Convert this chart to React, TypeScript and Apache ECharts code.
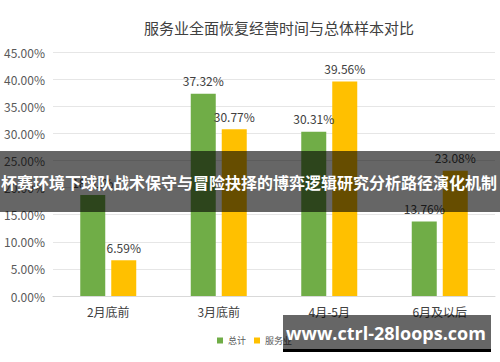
import React, { useEffect, useRef } from "react";
import * as echarts from "echarts";

const categories = ["2月底前", "3月底前", "4月-5月", "6月及以后"];
const totalValues = [18.61, 37.32, 30.31, 13.76];
const serviceValues = [6.59, 30.77, 39.56, 23.08];
const seriesNames = ["总计", "服务业"];
const titleText = "服务业全面恢复经营时间与总体样本对比";
const bannerText = "杯赛环境下球队战术保守与冒险抉择的博弈逻辑研究分析路径演化机制";
const watermarkText = "www.ctrl-28loops.com";

const FONT = "'Noto Sans CJK SC', 'Noto Sans', sans-serif";

export default function App() {
  const ref = useRef<HTMLDivElement>(null);
  useEffect(() => {
    if (!ref.current) return;
    const chart = echarts.init(ref.current, undefined, { renderer: "svg" });
    const labelCfg = {
      show: true,
      position: "top" as const,
      distance: 7,
      color: "#404040",
      fontSize: 12,
      fontFamily: FONT,
      formatter: (p: any) => p.value.toFixed(2) + "%",
    };
    chart.setOption({
      animation: false,
      backgroundColor: "#ffffff",
      textStyle: { fontFamily: FONT },
      title: {
        text: titleText,
        left: 274,
        textAlign: "center",
        top: 15,
        textStyle: { fontSize: 15, fontWeight: "normal", color: "#404040", fontFamily: FONT },
      },
      legend: {
        left: 212,
        top: 331,
        itemWidth: 6,
        itemHeight: 6,
        itemGap: 8,
        icon: "rect",
        textStyle: { fontSize: 9, color: "#595959", fontFamily: FONT },
        data: seriesNames,
      },
      grid: { left: 53, right: 5, top: 52, bottom: 66 },
      xAxis: {
        type: "category",
        data: categories,
        axisLine: { lineStyle: { color: "#d9d9d9" } },
        axisTick: { show: false },
        axisLabel: { color: "#404040", fontSize: 12, margin: 9, fontFamily: FONT },
      },
      yAxis: {
        type: "value",
        min: 0,
        max: 45,
        interval: 5,
        axisLabel: {
          color: "#595959",
          fontSize: 12,
          margin: 8,
          fontFamily: FONT,
          formatter: (v: number) => v.toFixed(2) + "%",
        },
        splitLine: { lineStyle: { color: "#e6e6e6" } },
        axisLine: { show: false },
        axisTick: { show: false },
      },
      series: [
        {
          name: seriesNames[0],
          type: "bar",
          data: totalValues,
          barWidth: 25,
          barGap: "24%",
          itemStyle: { color: "#70AD47" },
          label: labelCfg,
        },
        {
          name: seriesNames[1],
          type: "bar",
          data: serviceValues,
          barWidth: 25,
          itemStyle: { color: "#FFC000" },
          label: labelCfg,
        },
      ],
      graphic: [
        {
          type: "rect",
          left: 0,
          top: 151,
          shape: { width: 500, height: 61 },
          style: { fill: "rgba(0,0,0,0.6)" },
          z: 100,
        },
        {
          type: "text",
          x: 1,
          y: 182,
          style: {
            text: bannerText,
            fill: "#ffffff",
            font: "bold 16px " + FONT,
            align: "left",
            verticalAlign: "middle",
          },
          z: 101,
        },
        {
          type: "rect",
          left: 283,
          top: 315,
          shape: { width: 208, height: 34 },
          style: { fill: "rgba(0,0,0,0.6)" },
          z: 100,
        },
        {
          type: "rect",
          left: 283,
          top: 349,
          shape: { width: 208, height: 3 },
          style: { fill: "#000000" },
          z: 100,
        },
        {
          type: "text",
          x: 386,
          y: 333,
          style: {
            text: watermarkText,
            fill: "#ffffff",
            font: "bold 18px 'Open Sans', sans-serif",
            align: "center",
            verticalAlign: "middle",
          },
          z: 101,
        },
      ],
    });
    return () => chart.dispose();
  }, []);
  return (
    <div
      ref={ref}
      style={{ position: "fixed", left: 0, top: 0, width: 500, height: 362 }}
    />
  );
}
